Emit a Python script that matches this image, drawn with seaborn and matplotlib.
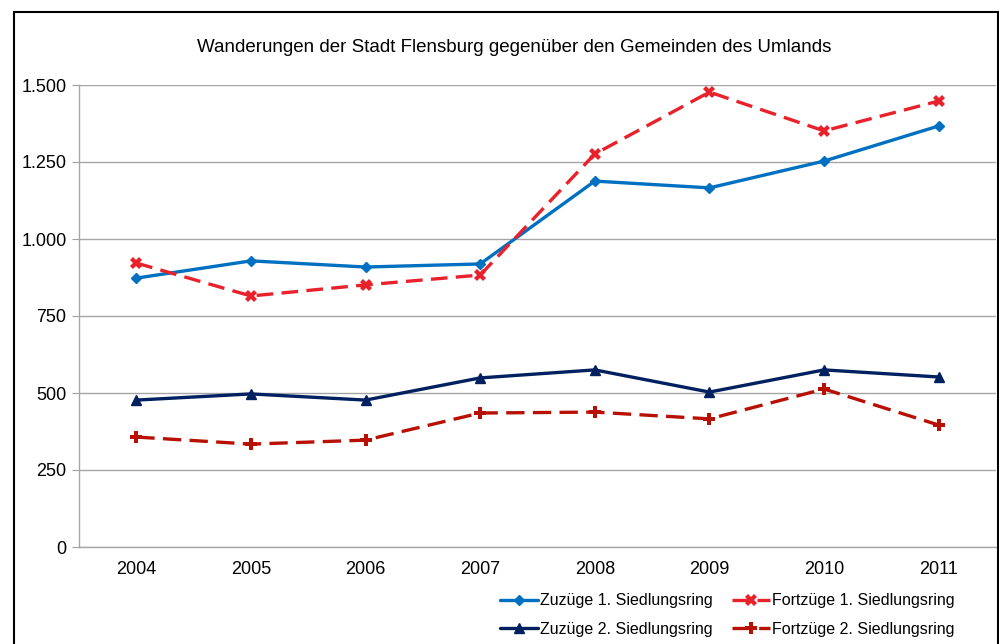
import numpy as np
import pandas as pd
import seaborn as sns
import matplotlib
matplotlib.use("Agg")
import matplotlib.pyplot as plt
from matplotlib.patches import Rectangle
from matplotlib.ticker import FuncFormatter

# values
jahre = ["2004", "2005", "2006", "2007", "2008", "2009", "2010", "2011"]
zuzuege_1 = [873, 929, 909, 919, 1188, 1166, 1253, 1367]
fortzuege_1 = [922, 815, 851, 883, 1276, 1477, 1351, 1448]
zuzuege_2 = [477, 497, 477, 549, 575, 503, 575, 552]
fortzuege_2 = [357, 334, 347, 435, 438, 416, 513, 396]

sns.set_style("white")
plt.rcParams['font.family'] = ['Liberation Sans', 'DejaVu Sans']
plt.rcParams['text.color'] = 'black'
plt.rcParams['xtick.color'] = 'black'
plt.rcParams['ytick.color'] = 'black'

fig = plt.figure(figsize=(9.99, 6.44), dpi=100)
ax = fig.add_axes([79/999, 1-547/644, (996-79)/999, (547-85)/644])

x = np.arange(len(jahre))
series = [
    ("Zuzüge 1. Siedlungsring", zuzuege_1, "#0070C0", "D", "", 5, 1.0),
    ("Zuzüge 2. Siedlungsring", zuzuege_2, "#002060", "^", "", 7, 1.0),
    ("Fortzüge 1. Siedlungsring", fortzuege_1, "#E8212B", "X", (5, 2.5), 9, 0),
    ("Fortzüge 2. Siedlungsring", fortzuege_2, "#B81004", "P", (5.5, 2.5), 8, 0),
]
for name, vals, col, mk, dash, ms, mew in series:
    sns.lineplot(x=x, y=vals, ax=ax, color=col, lw=2.4, marker=mk, ms=ms,
                 mec=col, mew=mew, label=name)
    if dash:
        ax.lines[-1].set_dashes(dash)

ax.set_xlim(-0.5, 7.5)
ax.set_ylim(0, 1500)
ax.set_yticks(range(0, 1501, 250))
ax.yaxis.set_major_formatter(FuncFormatter(lambda v, p: f"{int(v):,}".replace(",", ".")))
ax.set_xticks(x)
ax.set_xticklabels(jahre)
ax.set_xticks(np.arange(-0.5, 8, 1), minor=True)
ax.tick_params(axis="x", which="major", length=0, pad=10, labelsize=13)
ax.tick_params(axis="x", which="minor", length=5, color="#A0A0A0", direction="out")
ax.tick_params(axis="y", length=5, color="#A0A0A0", labelsize=13, pad=4, left=True)
ax.grid(axis="y", color="#A6A6A6", lw=1)
ax.set_axisbelow(True)
for s in ["top", "right"]:
    ax.spines[s].set_visible(False)
for s in ["left", "bottom"]:
    ax.spines[s].set_color("#A6A6A6")
    ax.spines[s].set_linewidth(1)

fig.text(0.515, 1-47/644, "Wanderungen der Stadt Flensburg gegenüber den Gemeinden des Umlands",
         ha="center", va="center", fontsize=13.5)

handles, labels = ax.get_legend_handles_labels()
ax.legend_.remove()
fig.legend(handles, labels, ncol=2, loc="center", bbox_to_anchor=(727/999, 1-615/644),
           frameon=False, fontsize=11.5, handlelength=2.4, handletextpad=0.1,
           columnspacing=1.2, labelspacing=0.85)

fig.patches.append(Rectangle((13.5/999, -0.1), (997.5-13.5)/999, 1.1 - 12.5/644,
                             transform=fig.transFigure, fill=False, ec="black", lw=1.5))

fig.savefig("out.png", dpi=100)
